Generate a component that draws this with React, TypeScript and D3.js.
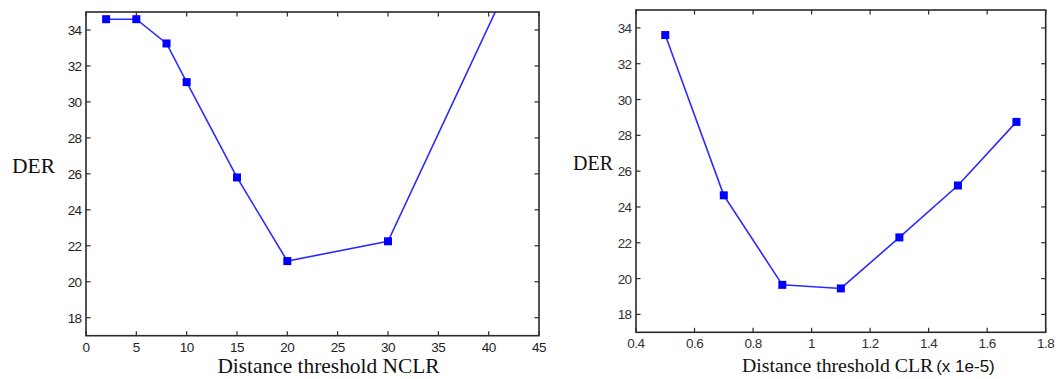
import React from "react";
import * as d3 from "d3";

const nclrX = [2, 5, 8, 10, 15, 20, 30, 45];
const nclrDER = [34.6, 34.6, 33.25, 31.1, 25.8, 21.15, 22.25, 40.2];
const nclrTicks = [0, 5, 10, 15, 20, 25, 30, 35, 40, 45];

const clrX = [0.5, 0.7, 0.9, 1.1, 1.3, 1.5, 1.7];
const clrDER = [33.6, 24.65, 19.65, 19.45, 22.3, 25.2, 28.75];
const clrTicks = [0.4, 0.6, 0.8, 1.0, 1.2, 1.4, 1.6, 1.8];

const yTicks = [18, 20, 22, 24, 26, 28, 30, 32, 34];

type PanelProps = {
  id: string;
  left: number; right: number; top: number; bottom: number;
  xDomain: [number, number];
  xs: number[]; ys: number[];
  xTicks: number[];
  fmt: (v: number) => string;
  derX: number; derY: number; derSize: number;
  tickColor: string;
};

function Panel(p: PanelProps) {
  const x = d3.scaleLinear().domain(p.xDomain).range([p.left, p.right]);
  const y = d3.scaleLinear().domain([17, 35]).range([p.bottom, p.top]);
  const pts = p.xs.map((v, i) => [v, p.ys[i]] as [number, number]);
  const line = d3.line<[number, number]>().x(d => x(d[0])).y(d => y(d[1]));
  const tl = 4.5;
  const axisColor = "#2a2a2a";
  const tickFont = "'Liberation Sans', Arial, sans-serif";
  return (
    <g>
      <defs>
        <clipPath id={p.id}>
          <rect x={p.left} y={p.top} width={p.right - p.left} height={p.bottom - p.top} />
        </clipPath>
      </defs>
      <g clipPath={`url(#${p.id})`}>
        <path d={line(pts) || ""} fill="none" stroke="#2b2bff" strokeWidth={1.6} />
        {pts.map((d, i) => (
          <rect key={i} x={x(d[0]) - 4} y={y(d[1]) - 4} width={8} height={8} fill="#0000ff" />
        ))}
      </g>
      {p.xTicks.map((t, i) => (
        <g key={"xt" + i}>
          <line x1={x(t)} x2={x(t)} y1={p.bottom} y2={p.bottom - tl} stroke={axisColor} strokeWidth={1.2} />
          <line x1={x(t)} x2={x(t)} y1={p.top} y2={p.top + tl} stroke={axisColor} strokeWidth={1.2} />
          <text x={x(t)} y={p.bottom + 16} textAnchor="middle" fontFamily={tickFont} fontSize={13.5} fill={p.tickColor} letterSpacing={-0.5}>
            {p.fmt(t)}
          </text>
        </g>
      ))}
      {yTicks.map((t, i) => (
        <g key={"yt" + i}>
          <line x1={p.left} x2={p.left + tl} y1={y(t)} y2={y(t)} stroke={axisColor} strokeWidth={1.2} />
          <line x1={p.right} x2={p.right - tl} y1={y(t)} y2={y(t)} stroke={axisColor} strokeWidth={1.2} />
          <text x={p.left - 4.5} y={y(t) + 5} textAnchor="end" fontFamily={tickFont} fontSize={13.5} fill={p.tickColor} letterSpacing={-0.6}>
            {t}
          </text>
        </g>
      ))}
      <rect x={p.left} y={p.top} width={p.right - p.left} height={p.bottom - p.top} fill="none" stroke={axisColor} strokeWidth={1.6} />
      <text x={p.derX} y={p.derY} fontFamily="'Liberation Serif', 'Times New Roman', serif" fontSize={p.derSize} fill="#111">DER</text>
    </g>
  );
}

export default function App() {
  return (
    <svg width={1057} height={379} style={{ position: "absolute", left: 0, top: 0, background: "#fff" }}>
      <rect x={0} y={0} width={1057} height={379} fill="#fff" />
      <Panel id="c1" left={86} right={539} top={12} bottom={335.7} xDomain={[0, 45]}
        xs={nclrX} ys={nclrDER} xTicks={nclrTicks} fmt={v => String(v)} derX={12} derY={173} derSize={21.5} tickColor="#1e1e1e" />
      <Panel id="c2" left={636} right={1045.7} top={10} bottom={332.3} xDomain={[0.4, 1.8]}
        xs={clrX} ys={clrDER} xTicks={clrTicks} fmt={v => (v === 1 ? "1" : String(+v.toFixed(1)))} derX={573} derY={170} derSize={20} tickColor="#333" />
      <text x={328.5} y={373} textAnchor="middle" fontFamily="'Liberation Serif', 'Times New Roman', serif" fontSize={21.4} fill="#111">
        Distance threshold NCLR
      </text>
      <text x={742} y={372} fontFamily="'Liberation Serif', 'Times New Roman', serif" fontSize={19.8} fill="#111">
        Distance threshold CLR
        <tspan fontFamily="'Liberation Sans', Arial, sans-serif" fontSize={17} dx={3}>(x 1e-5)</tspan>
      </text>
    </svg>
  );
}
